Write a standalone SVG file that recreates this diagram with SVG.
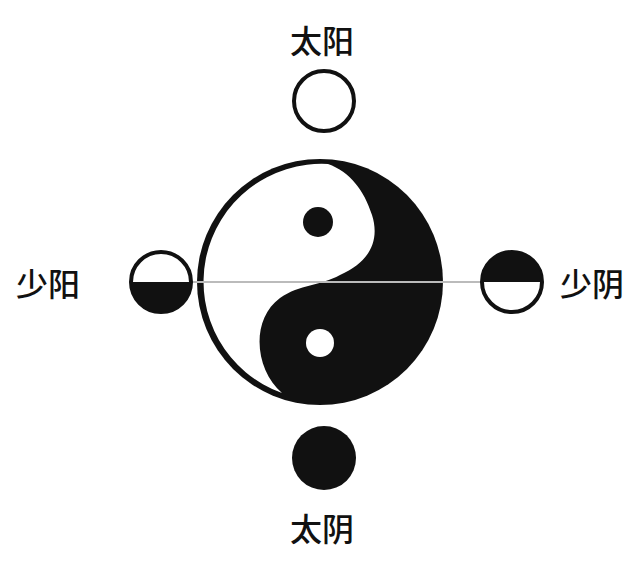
<svg xmlns="http://www.w3.org/2000/svg" width="640" height="572" viewBox="0 0 640 572">
<style>
.t{font-family:"Noto Sans CJK SC","Noto Sans",sans-serif;font-size:32px;font-weight:500;fill:#111;text-anchor:middle;dominant-baseline:central}
.k{fill:#111}.w{fill:#fff}.o{fill:#fff;stroke:#111;stroke-width:4}
</style>
<rect width="640" height="572" fill="#fff"/>
<g id="connectors"><line x1="165" y1="282" x2="500" y2="282" stroke="#bbb" stroke-width="2"/></g>
<g id="taiji">
<circle cx="320" cy="282" r="123" class="k"/>
<path class="w" d="M 328 164 A 118 118 0 0 0 282 393 C 255 370 250 320 280 298 C 300 284 320 286 340 275 C 370 262 380 240 372 215 C 364 190 350 172 328 164 Z"/>
<line x1="197" y1="282" x2="443" y2="282" stroke="#bbb" stroke-width="2"/>
<circle cx="318" cy="222" r="15" class="k"/>
<circle cx="320" cy="343" r="14" class="w"/>
</g>
<g id="taiyang"><circle cx="324" cy="101" r="30" class="o"/><text x="322" y="39" class="t">太阳</text></g>
<g id="taiyin"><circle cx="324" cy="458" r="32" class="k"/><text x="322" y="527" class="t">太阴</text></g>
<g id="shaoyang">
<circle cx="161" cy="282" r="30" class="o"/>
<path class="k" d="M131 282 A30 30 0 0 0 191 282 Z"/>
<text x="48" y="282" class="t">少阳</text></g>
<g id="shaoyin">
<circle cx="512" cy="282" r="30" class="o"/>
<path class="k" d="M482 282 A30 30 0 0 1 542 282 Z"/>
<text x="592" y="282" class="t">少阴</text></g>
</svg>
